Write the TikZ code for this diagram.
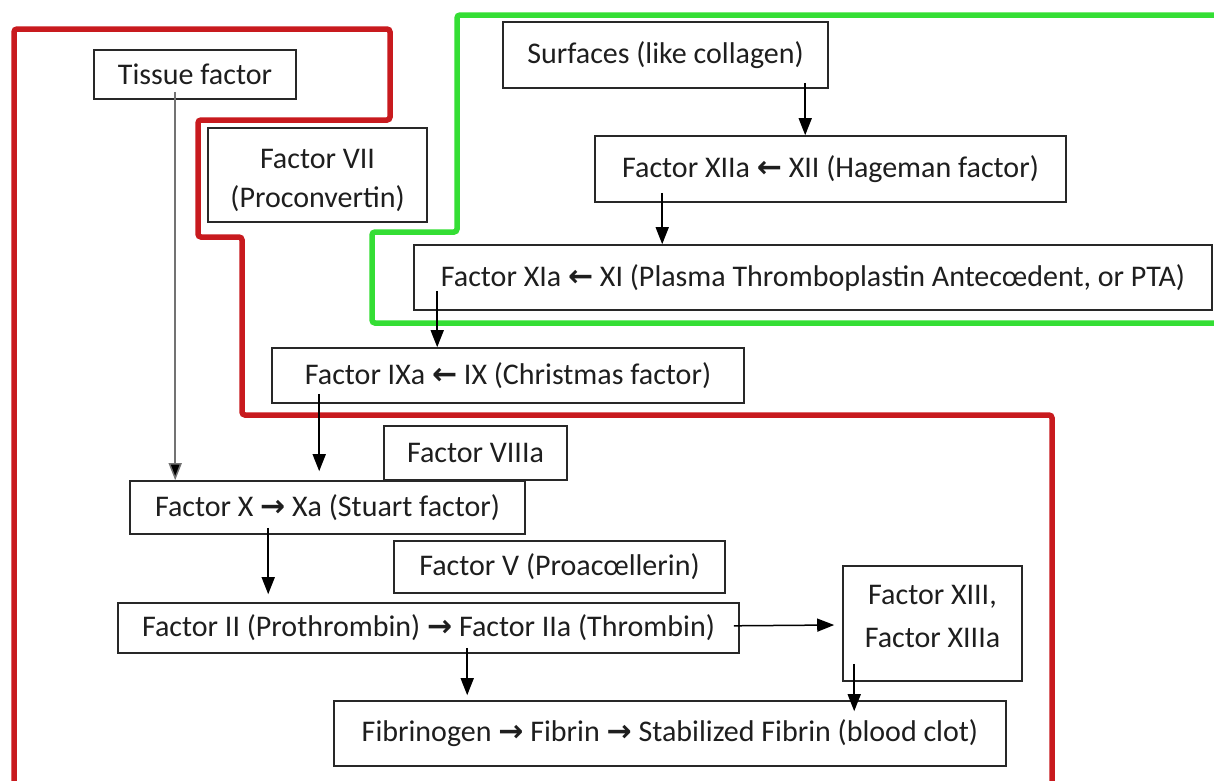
\documentclass[tikz,border=0pt]{standalone}
\usepackage{fontspec}
\setmainfont{Carlito}
\newfontfamily\arrfont{DejaVu Sans}
\usetikzlibrary{arrows.meta}
\definecolor{redline}{RGB}{200,26,30}
\definecolor{greenline}{RGB}{52,222,52}
\definecolor{boxline}{RGB}{40,40,40}
\definecolor{txt}{RGB}{30,30,30}
\newcommand{\la}{{\arrfont\bfseries ←}}
\newcommand{\ra}{{\arrfont\bfseries →}}
\tikzset{
  fbox/.style={draw=boxline, line width=1.6pt, rectangle, inner sep=0pt, align=center,
    text=txt, font=\fontsize{30}{40}\selectfont},
  conn/.style={draw=black, line width=1.5pt, -{Triangle[length=17pt,width=13pt]}},
  greyconn/.style={conn, draw=black!55, -{Triangle[length=17pt,width=13pt,fill=black]}},
  region/.style={line width=5.5pt, rounded corners=3pt, line cap=round}
}
\begin{document}
\begin{tikzpicture}[x=1pt,y=-1pt]
\useasboundingbox (0,0) rectangle (1214,780);
\fill[white] (0,0) rectangle (1214,780);
% region outlines
\draw[region, redline] (14,790) -- (14,29) -- (390,29) -- (390,120) -- (198,120) -- (198,237) -- (242,237) -- (242,415) -- (1052,415) -- (1052,790);
\draw[region, greenline] (1224,15) -- (457,15) -- (457,232) -- (372,232) -- (372,323) -- (1224,323);
% boxes
\node[fbox, minimum width=202pt, minimum height=49pt] (tf) at (195,74.5) {Tissue factor};
\node[fbox, minimum width=219pt, minimum height=94pt] (f7) at (317.5,175) {\raisebox{-5pt}[\height][\depth]{\begin{tabular}{@{}c@{}}Factor VII\\[-1pt](Proconvertin)\end{tabular}}};
\node[fbox, minimum width=325pt, minimum height=66pt] (surf) at (665.5,55) {Surfaces (like collagen)};
\node[fbox, minimum width=471pt, minimum height=66pt] (f12) at (830.5,169) {Factor XIIa \la{} XII (Hageman factor)};
\node[fbox, minimum width=798pt, minimum height=65pt] (f11) at (813,277.5) {Factor XIa \la{} XI (Plasma Thromboplastin Antecœdent, or PTA)};
\node[fbox, minimum width=472pt, minimum height=55pt] (f9) at (508,375.5) {Factor IXa \la{} IX (Christmas factor)};
\node[fbox, minimum width=183pt, minimum height=54pt] (f8) at (475.5,453) {Factor VIIIa};
\node[fbox, minimum width=395pt, minimum height=53pt] (fx) at (327.5,507.5) {Factor X \ra{} Xa (Stuart factor)};
\node[fbox, minimum width=331pt, minimum height=52pt] (f5) at (559.5,567) {Factor V (Proacœllerin)};
\node[fbox, minimum width=621pt, minimum height=50pt] (f2) at (428.5,628) {Factor II (Prothrombin) \ra{} Factor IIa (Thrombin)};
\node[fbox, minimum width=179pt, minimum height=115pt] (f13) at (932.5,623.5) {\raisebox{6pt}[\height][\depth]{\begin{tabular}{@{}c@{}}Factor XIII,\\[3pt]Factor XIIIa\end{tabular}}};
\node[fbox, minimum width=672pt, minimum height=65pt] (fib) at (670,733.5) {Fibrinogen \ra{} Fibrin \ra{} Stabilized Fibrin (blood clot)};
% connectors
\draw[greyconn] ([shift={(82pt,8pt)}]tf.south west) -- ([xshift=46pt]fx.north west);
\draw[conn] ([shift={(303pt,6pt)}]surf.south west) -- ([xshift=211pt]f12.north west);
\draw[conn] ([shift={(68pt,10pt)}]f12.south west) -- ([xshift=249pt]f11.north west);
\draw[conn] ([shift={(24pt,20pt)}]f11.south west) -- ([xshift=166pt]f9.north west);
\draw[conn] ([shift={(48pt,10pt)}]f9.south west) -- ([shift={(190pt,9pt)}]fx.north west);
\draw[conn] ([shift={(139pt,7pt)}]fx.south west) -- ([shift={(151pt,8pt)}]f2.north west);
\draw[conn] ([shift={(-6pt,28pt)}]f2.south east) -- ([shift={(-8pt,-1.5pt)}]f13.west);
\draw[conn] ([shift={(350pt,6pt)}]f2.south west) -- ([shift={(134pt,5pt)}]fib.north west);
\draw[conn] ([shift={(12pt,18pt)}]f13.south west) -- ([shift={(521pt,-11pt)}]fib.north west);
\end{tikzpicture}
\end{document}
